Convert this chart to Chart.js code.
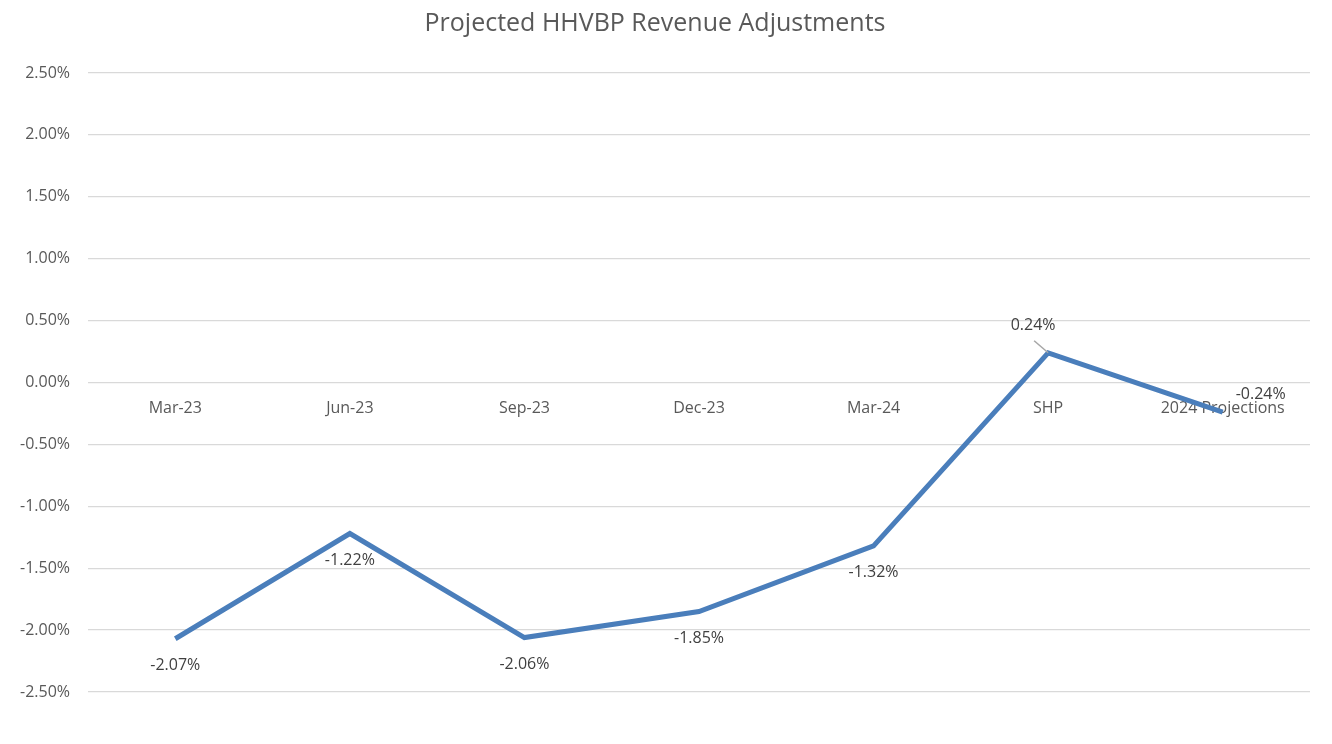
<!DOCTYPE html>
<html>
<head>
<meta charset="utf-8">
<script src="https://cdn.jsdelivr.net/npm/chart.js@4/dist/chart.umd.min.js"></script>
<style>
  html,body{margin:0;padding:0;background:#fff;}
  #wrap{width:1332px;height:744px;}
</style>
</head>
<body>
<div id="wrap"><canvas id="c" width="1332" height="744"></canvas></div>
<script>
const categories = ["Mar-23","Jun-23","Sep-23","Dec-23","Mar-24","SHP","2024 Projections"];
const values = [-2.07, -1.22, -2.06, -1.85, -1.32, 0.24, -0.24];
const yTickMin = -2.5, yTickMax = 2.5, yTickStep = 0.5;
const titleText = "Projected HHVBP Revenue Adjustments";

const FONT = "'Open Sans', 'Liberation Sans', sans-serif";

const dataLabels = {
  id: 'dataLabels',
  afterDatasetsDraw(chart) {
    const ctx = chart.ctx;
    const meta = chart.getDatasetMeta(0);
    ctx.save();
    ctx.font = "16px " + FONT;
    ctx.fillStyle = "#404040";
    ctx.textAlign = "center";
    ctx.textBaseline = "middle";
    meta.data.forEach((pt, i) => {
      const v = values[i];
      const txt = v.toFixed(2) + "%";
      let x = pt.x, y = pt.y;
      if (i === 5) {
        ctx.strokeStyle = "#a6a6a6";
        ctx.lineWidth = 1.5;
        ctx.beginPath();
        ctx.moveTo(x - 14, y - 12);
        ctx.lineTo(x, y);
        ctx.stroke();
        ctx.fillText(txt, x - 15, y - 27);
      } else if (i === 6) {
        ctx.fillText(txt, x + 38, y - 18);
      } else {
        ctx.fillText(txt, x, y + 27);
      }
    });
    ctx.restore();
  }
};

new Chart(document.getElementById('c'), {
  type: 'line',
  data: {
    labels: categories,
    datasets: [{
      data: values,
      borderColor: '#4a7ebb',
      borderWidth: 5,
      pointRadius: 0,
      tension: 0,
      fill: false
    }]
  },
  options: {
    responsive: false,
    animation: false,
    devicePixelRatio: 1,
    layout: { padding: { left: 0, right: 22, top: 0, bottom: 52 } },
    plugins: {
      legend: { display: false },
      tooltip: { enabled: false },
      title: {
        display: true,
        text: titleText,
        color: '#595959',
        font: { family: FONT, size: 25, weight: 'normal' },
        padding: { top: 9, bottom: 34 }
      }
    },
    scales: {
      x: {
        type: 'category',
        offset: true,
        position: { y: 0 },
        grid: { display: false, drawTicks: false },
        border: { display: false },
        ticks: {
          color: '#595959',
          font: { family: FONT, size: 16 },
          padding: 16,
          maxRotation: 0,
          autoSkip: false
        }
      },
      y: {
        min: yTickMin,
        max: yTickMax,
        afterFit(scale) { scale.width = 88; },
        grid: { color: '#d9d9d9', lineWidth: 1.3, drawTicks: false },
        border: { display: false },
        ticks: {
          stepSize: yTickStep,
          color: '#595959',
          font: { family: FONT, size: 16 },
          padding: 18,
          callback: v => v.toFixed(2) + '%'
        }
      }
    }
  },
  plugins: [dataLabels]
});
</script>
</body>
</html>
